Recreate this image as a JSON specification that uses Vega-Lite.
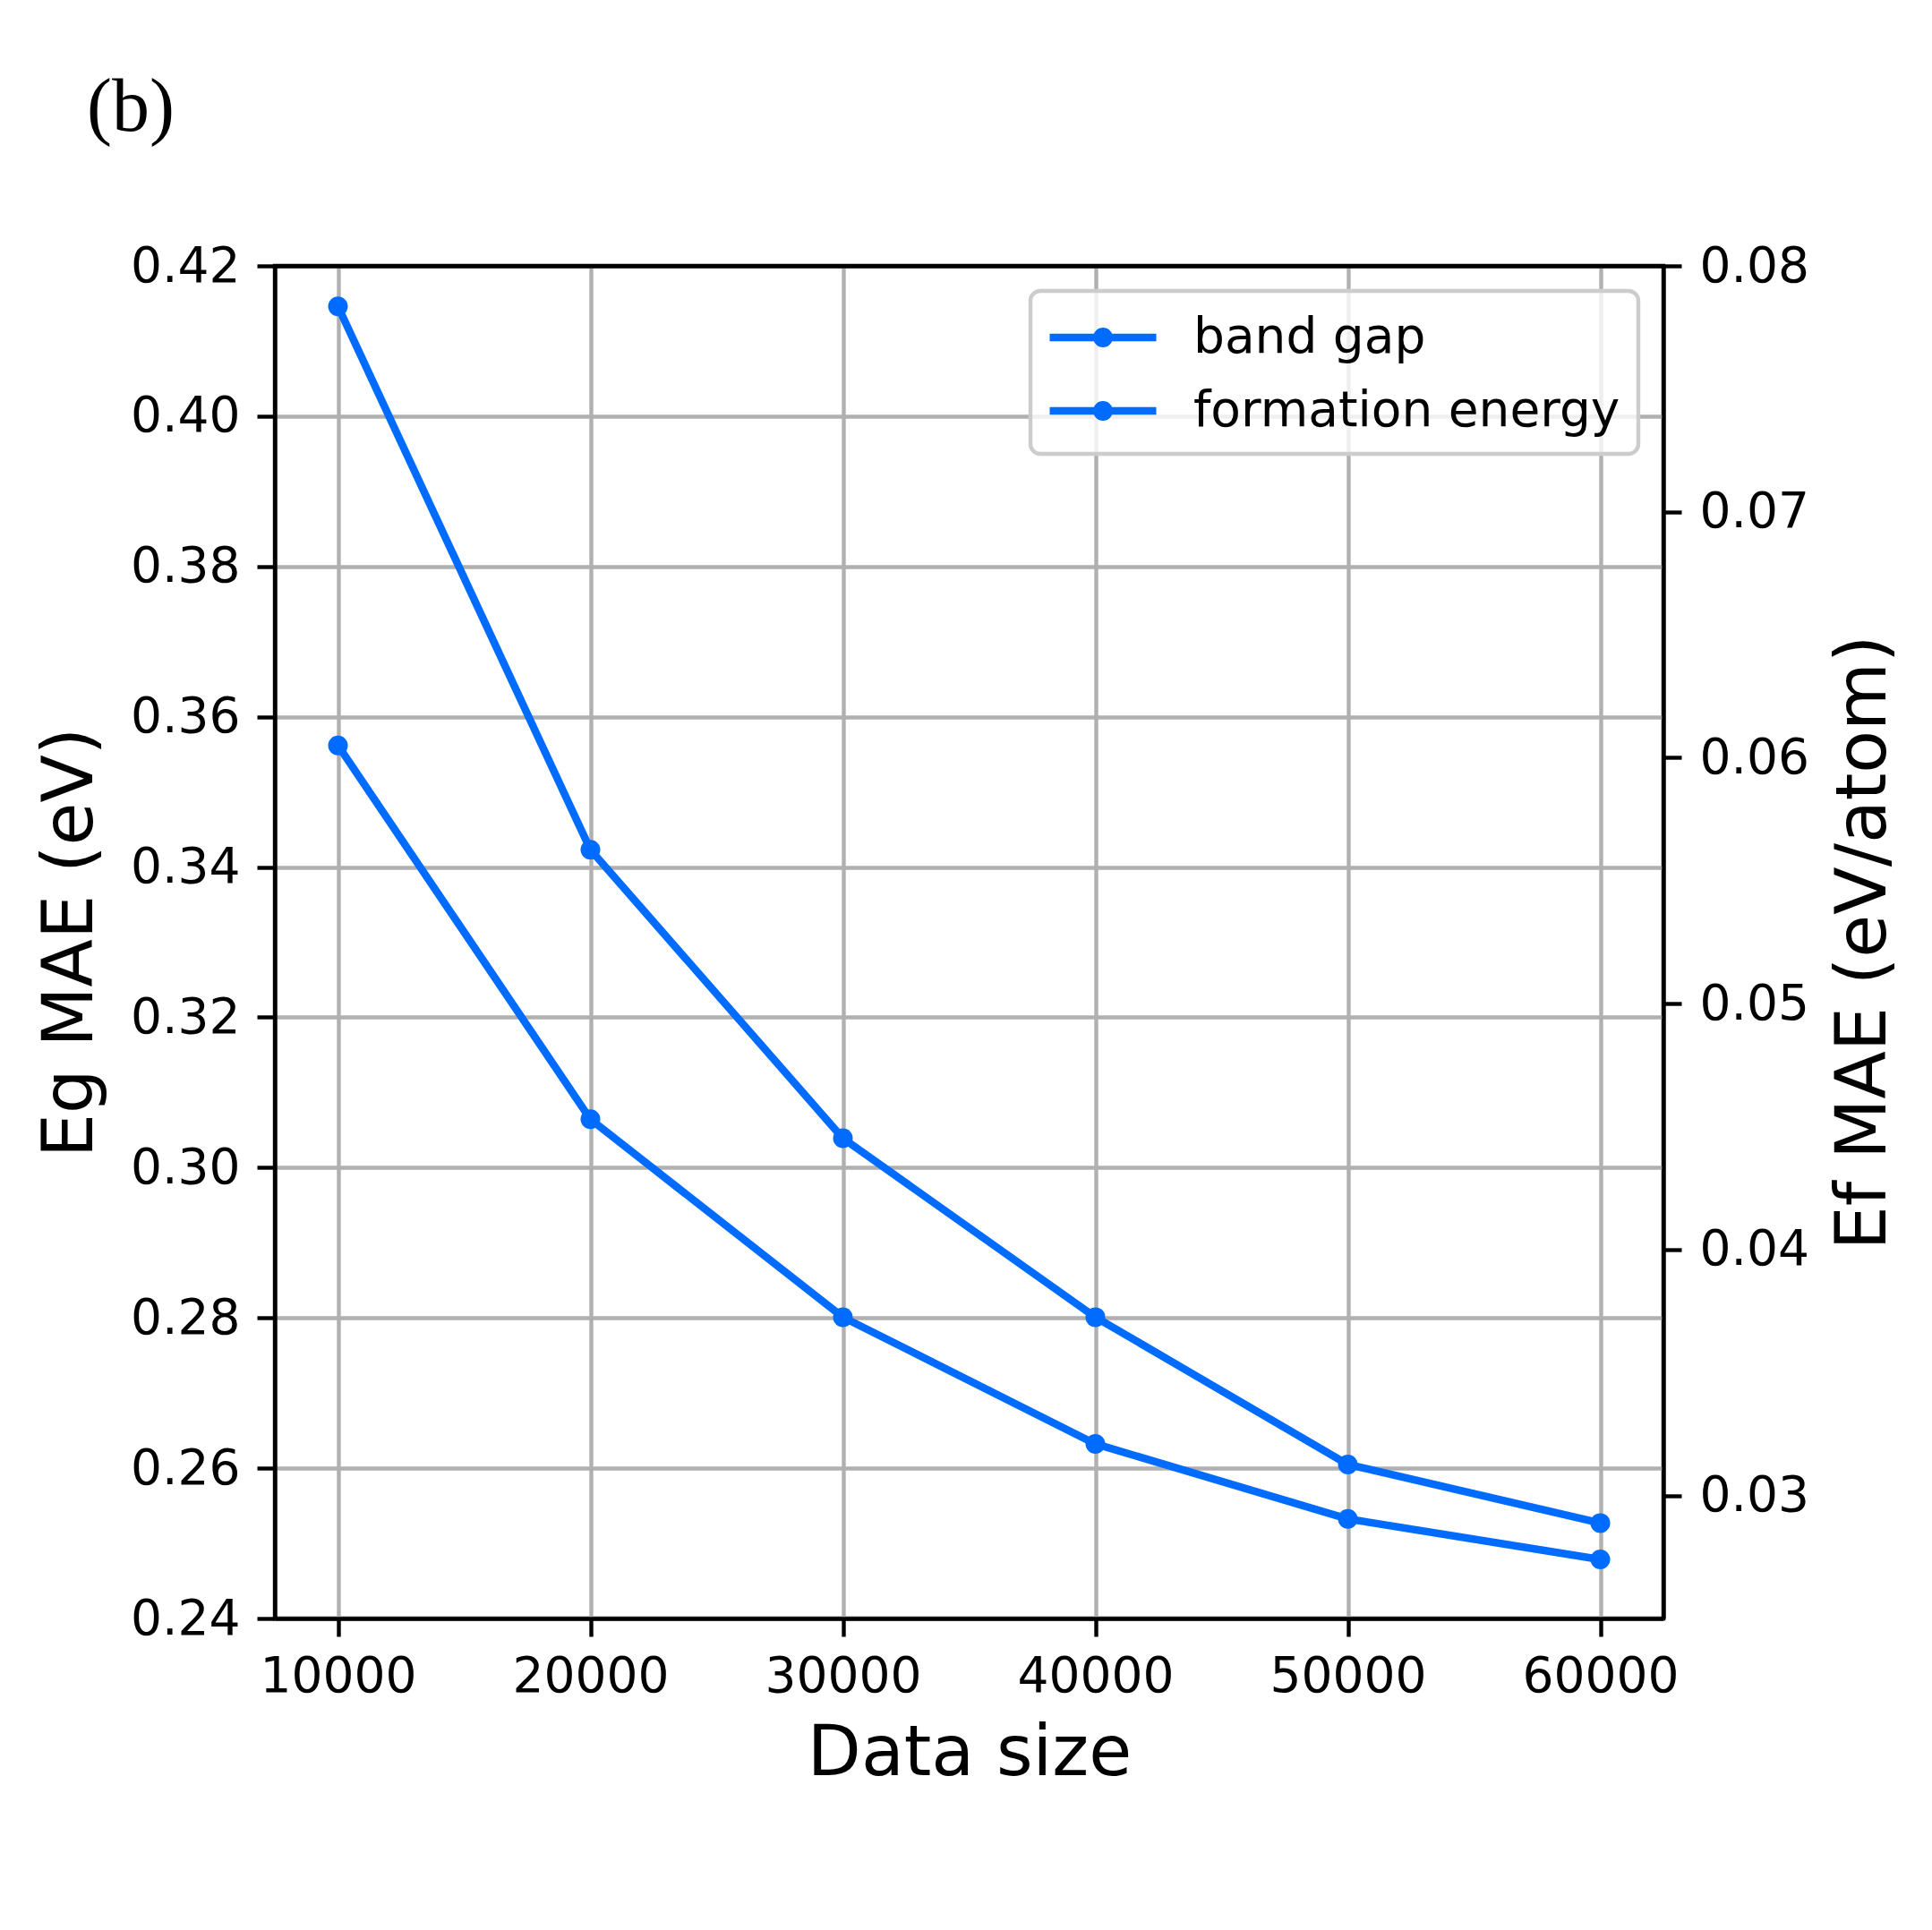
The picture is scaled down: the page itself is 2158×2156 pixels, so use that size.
{
  "$schema": "https://vega.github.io/schema/vega-lite/v6.json",
  "width": 1551,
  "height": 1511,
  "autosize": {"type": "none"},
  "padding": {"left": 307, "top": 297, "right": 300, "bottom": 348},
  "background": "white",
  "title": {"text": "(b)", "anchor": "start", "frame": "group", "font": "Liberation Serif", "fontSize": 84, "fontWeight": "normal", "color": "black", "baseline": "alphabetic", "offset": 40, "dx": -210},
  "data": {"values": [
    {"size": 10000, "series": "band gap", "mae": 0.4146},
    {"size": 20000, "series": "band gap", "mae": 0.3423},
    {"size": 30000, "series": "band gap", "mae": 0.3039},
    {"size": 40000, "series": "band gap", "mae": 0.2801},
    {"size": 50000, "series": "band gap", "mae": 0.2605},
    {"size": 60000, "series": "band gap", "mae": 0.2527},
    {"size": 10000, "series": "formation energy", "mae": 0.0605},
    {"size": 20000, "series": "formation energy", "mae": 0.0453},
    {"size": 30000, "series": "formation energy", "mae": 0.03725},
    {"size": 40000, "series": "formation energy", "mae": 0.0321},
    {"size": 50000, "series": "formation energy", "mae": 0.02905},
    {"size": 60000, "series": "formation energy", "mae": 0.0274}
  ]},
  "encoding": {
    "x": {"field": "size", "type": "quantitative",
      "scale": {"domain": [7500, 62500], "nice": false, "zero": false},
      "axis": {"values": [10000, 20000, 30000, 40000, 50000, 60000], "format": "d", "title": "Data size", "grid": true, "labelPadding": 18, "titlePadding": 20}}
  },
  "layer": [
    {
      "transform": [{"filter": "datum.series === 'band gap'"}],
      "encoding": {
        "y": {"field": "mae", "type": "quantitative",
          "scale": {"domain": [0.24, 0.42], "nice": false, "zero": false},
          "axis": {"orient": "left", "values": [0.24, 0.26, 0.28, 0.30, 0.32, 0.34, 0.36, 0.38, 0.40, 0.42], "format": ".2f", "title": "Eg MAE (eV)", "grid": true, "labelPadding": 19, "titlePadding": 27,
            "gridColor": {"condition": {"test": "datum.value > 0.419", "value": "black"}, "value": "#b0b0b0"}}},
        "color": {"field": "series", "type": "nominal",
          "scale": {"domain": ["band gap", "formation energy"], "range": ["#006cff", "#006cff"]},
          "legend": {"title": null, "symbolType": "M-2.164,0H2.164M-0.245,0A0.245,0.245,0,1,1,0.245,0A0.245,0.245,0,1,1,-0.245,0Z", "symbolSize": 3025, "symbolStrokeWidth": 8.5, "symbolFillColor": "#006cff", "symbolStrokeColor": "#006cff", "symbolOffset": 29, "labelOffset": 69, "labelLimit": 0,
            "encode": {"symbols": {"update": {"fill": {"value": "#006cff"}, "stroke": {"value": "#006cff"}, "opacity": {"value": 1}, "fillOpacity": {"value": 1}}}}}}
      },
      "layer": [
        {"mark": {"type": "line", "strokeWidth": 8.5}},
        {"mark": {"type": "point", "filled": true, "opacity": 1, "size": 484}}
      ]
    },
    {
      "transform": [{"filter": "datum.series === 'formation energy'"}],
      "encoding": {
        "y": {"field": "mae", "type": "quantitative",
          "scale": {"domain": [0.025, 0.08], "nice": false, "zero": false},
          "axis": {"orient": "right", "values": [0.03, 0.04, 0.05, 0.06, 0.07, 0.08], "format": ".2f", "title": "Ef MAE (eV/atom)", "grid": false, "labelPadding": 20, "titlePadding": 23, "titleAngle": 270, "titleBaseline": "top"}},
        "color": {"field": "series", "type": "nominal"}
      },
      "layer": [
        {"mark": {"type": "line", "strokeWidth": 8.5}},
        {"mark": {"type": "point", "filled": true, "opacity": 1, "size": 484}}
      ]
    }
  ],
  "resolve": {"scale": {"y": "independent"}},
  "config": {
    "font": "DejaVu Sans",
    "view": {"stroke": "black", "strokeWidth": 4.4},
    "axis": {
      "domainColor": "black", "domainWidth": 4.4, "tickColor": "black", "tickWidth": 4.4, "tickSize": 20,
      "labelColor": "black", "titleColor": "black", "labelFont": "DejaVu Sans", "titleFont": "DejaVu Sans",
      "labelFontSize": 55, "titleFontSize": 78, "titleFontWeight": "normal",
      "gridColor": "#b0b0b0", "gridWidth": 4.4, "gridOpacity": 1,
      "labelFlush": false, "labelOverlap": false, "labelBound": false
    },
    "legend": {
      "orient": "top-right", "offset": 28, "padding": 20,
      "strokeColor": "#cccccc", "strokeWidth": 4.4, "fillColor": "rgba(255,255,255,0.8)", "cornerRadius": 11,
      "labelFontSize": 55, "labelFont": "DejaVu Sans", "labelColor": "black", "rowPadding": 22
    }
  }
}
